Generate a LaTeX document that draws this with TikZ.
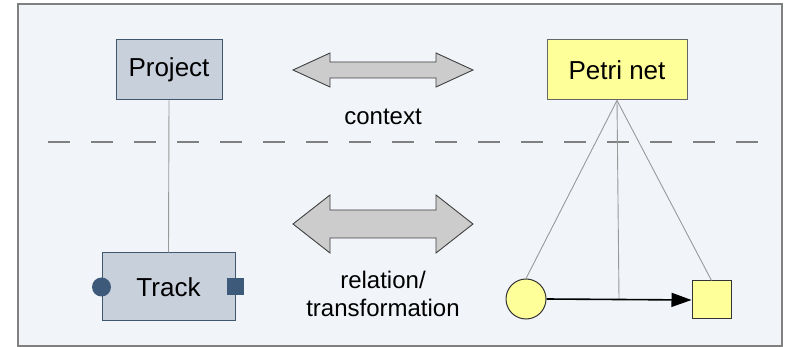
\documentclass[tikz,border=0pt]{standalone}
\usepackage{fontspec}
\setmainfont{Liberation Sans}
\usetikzlibrary{arrows.meta}
\definecolor{panelbg}{HTML}{F1F4F9}
\definecolor{boxblue}{HTML}{C8D0DC}
\definecolor{edgeblue}{HTML}{3F5670}
\definecolor{portblue}{HTML}{3D5A7A}
\definecolor{petriyellow}{HTML}{FFFF99}
\definecolor{arrowgray}{HTML}{CCCCCC}
\begin{document}
\begin{tikzpicture}
[x=1pt,y=-1pt,
  boxdecorate/.style={shape=rectangle,draw=edgeblue,line width=1pt,inner sep=0pt,
    font=\fontsize{26}{28}\selectfont},
  petridecorate/.style={draw=black!80,fill=petriyellow,line width=1pt,inner sep=0pt},
  portdecorate/.style={fill=portblue,draw=none,inner sep=0pt},
  linkdecorate/.style={draw=black!40,line width=0.9pt},
  bigarrow/.style={draw=black!75,fill=arrowgray,line width=0.9pt,line join=miter},
  labeldecorate/.style={font=\fontsize{24}{28}\selectfont,align=center}]
%% frame and background
\useasboundingbox (0,0) rectangle (790,347);
\draw[fill=panelbg,draw=black!50,line width=1.2pt] (18,4) rectangle (782,346);
\draw[black!50,line width=1.3pt,dash pattern=on 22pt off 21pt] (48,142) -- (764,142);
%% nodes or vertices
\node (project) at (169,70) [boxdecorate,fill=boxblue,minimum width=106pt,minimum height=60pt] {Project};
\node (petri) at (617,70) [boxdecorate,fill=petriyellow,draw=black!60,minimum width=140pt,minimum height=60pt] {Petri net};
\node (track) at (168.5,287) [boxdecorate,fill=boxblue,minimum width=133pt,minimum height=68pt] {Track};
\node (inport) at (track.west) [portdecorate,shape=circle,minimum size=19pt] {};
\node (outport) at (track.east) [portdecorate,shape=rectangle,minimum size=17pt] {};
\node (place) at (526,299) [petridecorate,shape=circle,minimum size=40pt] {};
\node (trans) at (711.5,300) [petridecorate,shape=rectangle,minimum width=39pt,minimum height=38pt] {};
\node (ctxlabel) at (383,117) [labeldecorate] {context};
\node (rellabel) at (383,294) [labeldecorate] {relation/\\transformation};
%% double arrows
\foreach \ay/\sh/\hh in {70/8/17, 224/14/29} {
  \draw[bigarrow] (293,\ay) -- (330,\ay-\hh) -- (330,\ay-\sh) -- (436,\ay-\sh)
    -- (436,\ay-\hh) -- (473,\ay) -- (436,\ay+\hh) -- (436,\ay+\sh)
    -- (330,\ay+\sh) -- (330,\ay+\hh) -- cycle;
}
%% edges or lines
\coordinate (mid) at (619,299);
\path
\foreach \startnode/\endnode in {project.south/track.north, petri.south/place.north,
  petri.south/trans.north, petri.south/mid} {
  (\startnode) edge[linkdecorate] (\endnode)
};
\draw[line width=1.6pt,-{Triangle[length=20pt,width=14pt]}] (place.east) -- (trans.west);
\end{tikzpicture}
\end{document}
